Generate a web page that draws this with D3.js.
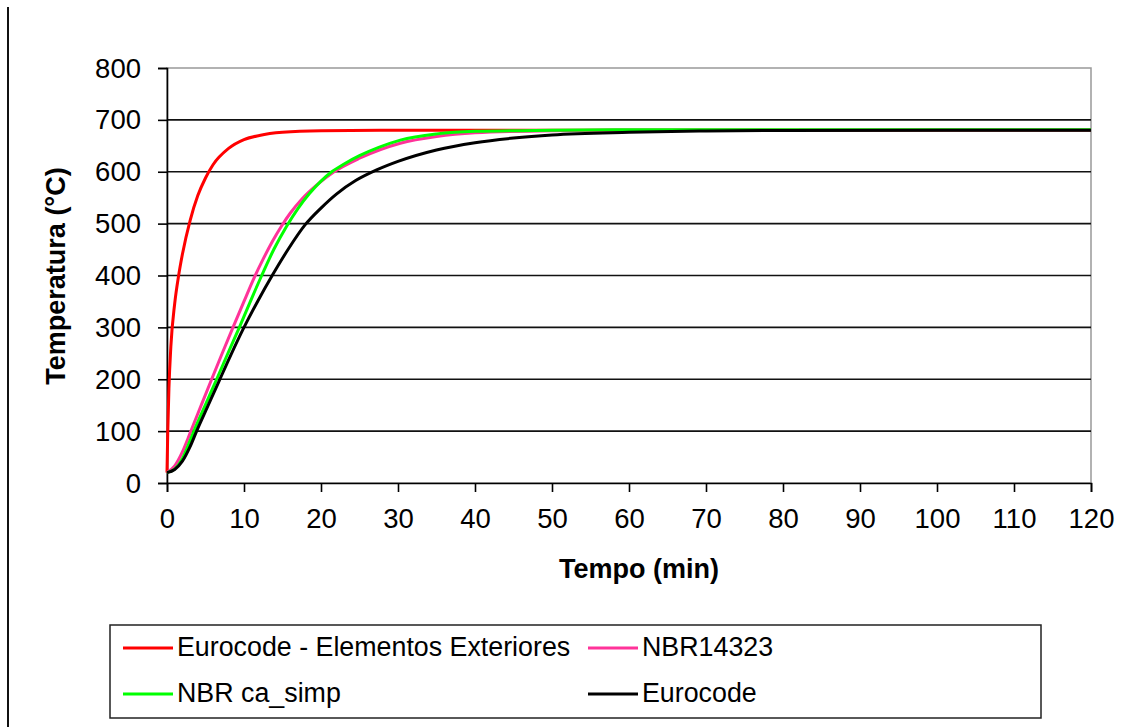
<!DOCTYPE html>
<html>
<head>
<meta charset="utf-8">
<script src="https://cdn.jsdelivr.net/npm/d3@7"></script>
<style>
  html, body { margin: 0; padding: 0; background: #fff; }
  svg { display: block; }
  text { font-family: "Liberation Sans", Arial, sans-serif; fill: #000; }
</style>
</head>
<body>
<svg id="chart" width="1134" height="727"></svg>
<script>
// ---- data ----
const xTicks = [0, 10, 20, 30, 40, 50, 60, 70, 80, 90, 100, 110, 120];
const yTicks = [0, 100, 200, 300, 400, 500, 600, 700, 800];

const seriesNames = ["Eurocode - Elementos Exteriores", "NBR14323", "NBR ca_simp", "Eurocode"];
const seriesColors = ["#ff0000", "#ff3399", "#00ff00", "#000000"];

const extTime = [0, 0.1, 0.25, 0.5, 1, 1.5, 2, 3, 4, 5, 6, 8, 10, 12, 15, 20, 30, 120];
const extTemp = [20, 100, 182, 263, 346, 399, 441, 506, 554, 588, 614, 645, 662, 670, 676, 679, 680, 680];

const nbrTime = [0, 1, 2, 3.1, 4.5, 5.8, 7.2, 8.6, 10, 11.3, 12.5, 13.7, 14.9, 16, 17.5, 19.5, 21.6, 25, 30.3, 35, 40, 50, 60, 120];
const nbrTemp = [20, 33, 60, 100, 152, 200, 251, 301, 350, 395, 432, 466, 496, 520, 547, 575, 599, 626, 655, 668, 675, 679, 680, 680];

const simpTime = [0, 1, 2, 3, 3.5, 5, 6.45, 8, 9.4, 11, 12.3, 13.9, 15.5, 17, 18.5, 20, 21.4, 23, 25, 27.5, 30.3, 35, 40, 50, 60, 120];
const simpTemp = [20, 27, 47, 82, 100, 151, 200, 253, 300, 356, 400, 451, 494, 529, 558, 582, 600, 615, 631, 647, 661, 673, 678, 680, 681, 681];

const ecTime = [0, 1, 2, 3, 3.85, 5.3, 6.75, 8.3, 9.9, 11.8, 13.7, 15.8, 17.9, 20, 22, 24.5, 27.3, 30, 35, 40, 45, 50, 60, 70, 80, 120];
const ecTemp = [20, 26, 42, 70, 100, 148, 196, 247, 297, 351, 401, 452, 497, 530, 557, 583, 604, 620, 642, 656, 665, 671, 676, 678.5, 679.5, 680];

const allSeries = [
  { name: seriesNames[0], color: seriesColors[0], t: extTime, v: extTemp },
  { name: seriesNames[1], color: seriesColors[1], t: nbrTime, v: nbrTemp },
  { name: seriesNames[2], color: seriesColors[2], t: simpTime, v: simpTemp },
  { name: seriesNames[3], color: seriesColors[3], t: ecTime, v: ecTemp }
];

// ---- layout ----
const svg = d3.select("#chart");
const x = d3.scaleLinear().domain([0, 120]).range([167, 1091]);
const y = d3.scaleLinear().domain([0, 800]).range([483, 68]);

// left page rule
svg.append("line").attr("x1", 8).attr("x2", 8).attr("y1", 7).attr("y2", 727)
  .attr("stroke", "#111").attr("stroke-width", 2);

// plot frame (grey)
svg.append("rect").attr("x", x(0)).attr("y", y(800))
  .attr("width", x(120) - x(0)).attr("height", y(0) - y(800))
  .attr("fill", "none").attr("stroke", "#999").attr("stroke-width", 1.5);

// gridlines
svg.append("g").selectAll("line").data(yTicks.filter(d => d > 0 && d < 800)).join("line")
  .attr("x1", x(0)).attr("x2", x(120))
  .attr("y1", d => y(d)).attr("y2", d => y(d))
  .attr("stroke", "#111").attr("stroke-width", 1.6);

// y axis
const yAxis = svg.append("g").attr("transform", `translate(${x(0)},0)`)
  .call(d3.axisLeft(y).tickValues(yTicks).tickSize(9).tickPadding(17));
yAxis.select(".domain").attr("stroke", "#000").attr("stroke-width", 1.6);
yAxis.selectAll(".tick line").attr("stroke", "#000").attr("stroke-width", 1.6);
yAxis.selectAll(".tick text").attr("font-size", 27.5).attr("font-family", "Liberation Sans, Arial, sans-serif")
  .attr("dy", "0.33em").attr("fill", "#000");

// x axis
const xAxis = svg.append("g").attr("transform", `translate(0,${y(0)})`)
  .call(d3.axisBottom(x).tickValues(xTicks).tickSize(9).tickPadding(16));
xAxis.select(".domain").attr("stroke", "#000").attr("stroke-width", 1.6);
xAxis.selectAll(".tick line").attr("stroke", "#000").attr("stroke-width", 1.6);
xAxis.selectAll(".tick text").attr("font-size", 27.5).attr("font-family", "Liberation Sans, Arial, sans-serif")
  .attr("fill", "#000");

// axis titles
svg.append("text").attr("x", 639).attr("y", 578).attr("text-anchor", "middle")
  .attr("font-size", 27).attr("font-weight", "bold").text("Tempo (min)");
svg.append("text").attr("transform", "translate(65,276) rotate(-90)").attr("text-anchor", "middle")
  .attr("font-size", 27).attr("font-weight", "bold").text("Temperatura (°C)");

// curves
const line = d3.line().x(d => x(d[0])).y(d => y(d[1])).curve(d3.curveMonotoneX);
svg.append("g").selectAll("path").data(allSeries).join("path")
  .attr("d", s => line(s.t.map((t, i) => [t, s.v[i]])))
  .attr("fill", "none").attr("stroke", s => s.color).attr("stroke-width", 3)
  .attr("stroke-linejoin", "round");

// legend
const legend = svg.append("g");
legend.append("rect").attr("x", 110).attr("y", 625).attr("width", 931).attr("height", 93)
  .attr("fill", "#fff").attr("stroke", "#222").attr("stroke-width", 1.5);
const legendPos = [
  { lx: 123, ly: 648 }, { lx: 588, ly: 648 },
  { lx: 123, ly: 694 }, { lx: 588, ly: 694 }
];
const items = legend.selectAll("g.item").data(allSeries).join("g").attr("class", "item")
  .attr("transform", (d, i) => `translate(${legendPos[i].lx},${legendPos[i].ly})`);
items.append("line").attr("x1", 0).attr("x2", 50).attr("y1", 0).attr("y2", 0)
  .attr("stroke", d => d.color).attr("stroke-width", 3);
items.append("text").attr("x", 54).attr("y", 8).attr("font-size", 26.8).text(d => d.name);
</script>
</body>
</html>
